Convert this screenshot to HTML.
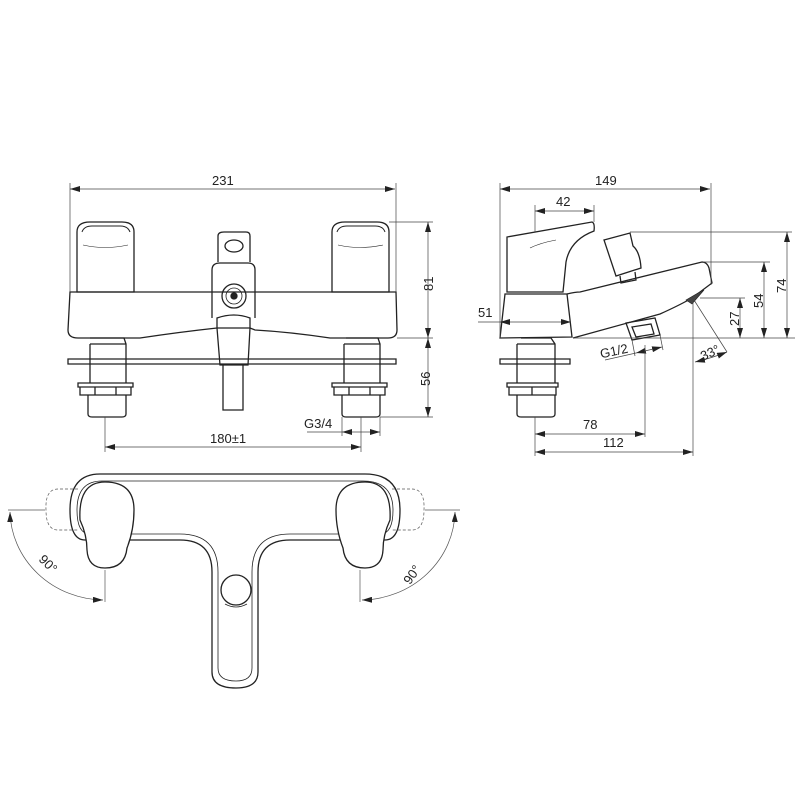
<!DOCTYPE html>
<html><head><meta charset="utf-8"><style>
html,body{margin:0;padding:0;background:#fff;}
svg{display:block;}
text{font-family:"Liberation Sans",sans-serif;font-size:13px;fill:#222;}
</style></head><body>
<svg width="800" height="800" viewBox="0 0 800 800" xmlns="http://www.w3.org/2000/svg">
<defs>
<marker id="a" viewBox="0 0 10 6" refX="10" refY="3" markerWidth="10" markerHeight="6" orient="auto-start-reverse" markerUnits="userSpaceOnUse"><path d="M0,0L10,3L0,6z" fill="#222"/></marker>
</defs>
<g fill="none" stroke="#222" stroke-width="1.3">
<!-- FRONT VIEW -->
<path d="M77,292 L77,232 Q77,222 90,222 L122,222 Q134,222 134,232 L134,292 Z"/>
<path d="M82,232 Q84,226 92,226 L120,226 Q128,226 130,232" stroke-width="1"/>
<path d="M83,245 Q105,250 128,245" stroke-width="0.6"/>
<path d="M332,292 L332,232 Q332,222 345,222 L377,222 Q389,222 389,232 L389,292 Z"/>
<path d="M337,232 Q339,226 347,226 L375,226 Q383,226 385,232" stroke-width="1"/>
<path d="M338,245 Q360,250 383,245" stroke-width="0.6"/>
<path d="M70,292 L396,292 L397,330 Q397,338 388,338 L330,338 Q290,332 255,330 L250,328 L217,328 Q180,332 140,338 L78,338 Q68,338 68,330 Z"/>
<path d="M218,262 L218,236 Q218,232 224,232 L246,232 Q250,232 250,236 L250,262"/>
<ellipse cx="234" cy="246" rx="9" ry="6"/>
<path d="M212,318 L212,270 Q212,263 220,263 L248,263 Q255,263 255,270 L255,318"/>
<circle cx="234" cy="296" r="12"/>
<circle cx="234" cy="296" r="8" stroke-width="0.8"/>
<circle cx="234" cy="296" r="3" fill="#222"/>
<path d="M217,318 Q234,312 250,318 L250,328 L248,365 L220,365 L217,328 Z"/>
<path d="M223,365 L223,410 L243,410 L243,365"/>
<path d="M68,359 L396,359 L396,364 L68,364 Z"/>
<path d="M92,338 L124,338 L126,344 L126,383 M90,344 L90,383 M90,344 L126,344 M90,338 L92,338"/>
<path d="M78,383 L133,383 L133,387 L78,387 Z M80,387 L80,395 L131,395 L131,387 M95,387 L95,395 M116,387 L116,395"/>
<path d="M88,395 L88,414 Q88,417 92,417 L122,417 Q126,417 126,414 L126,395"/>
<path d="M346,338 L378,338 L380,344 L380,383 M344,344 L344,383 M344,344 L380,344"/>
<path d="M332,383 L387,383 L387,387 L332,387 Z M334,387 L334,395 L385,395 L385,387 M349,387 L349,395 M370,387 L370,395"/>
<path d="M342,395 L342,414 Q342,417 346,417 L376,417 Q380,417 380,414 L380,395"/>
</g>
<g fill="none" stroke="#444" stroke-width="0.7">
<line x1="70" y1="189" x2="395" y2="189" marker-start="url(#a)" marker-end="url(#a)"/>
<line x1="70" y1="183" x2="70" y2="292"/>
<line x1="396" y1="183" x2="396" y2="292"/>
<line x1="389" y1="222" x2="433" y2="222"/>
<line x1="397" y1="338" x2="433" y2="338"/>
<line x1="380" y1="417" x2="433" y2="417"/>
<line x1="428" y1="222" x2="428" y2="338" marker-start="url(#a)" marker-end="url(#a)"/>
<line x1="428" y1="338" x2="428" y2="417" marker-start="url(#a)" marker-end="url(#a)"/>
<line x1="307" y1="432" x2="342" y2="432"/>
<line x1="342" y1="432" x2="380" y2="432" marker-start="url(#a)" marker-end="url(#a)"/>
<line x1="342" y1="417" x2="342" y2="436"/>
<line x1="380" y1="417" x2="380" y2="436"/>
<line x1="105" y1="417" x2="105" y2="452"/>
<line x1="361" y1="417" x2="361" y2="452"/>
<line x1="105" y1="447" x2="361" y2="447" marker-start="url(#a)" marker-end="url(#a)"/>
</g>
<text x="212" y="185">231</text>
<text x="423" y="293" transform="rotate(-90 423 283)" dx="-8">81</text>
<text x="423" y="385" transform="rotate(-90 423 378)" dx="-8">56</text>
<text x="304" y="428">G3/4</text>
<text x="210" y="443">180±1</text>

<!-- SIDE VIEW -->
<g fill="none" stroke="#222" stroke-width="1.3">
<path d="M507,292 L507,237 L592,222 Q595,223 594,231 Q570,240 566,262 L563,292 Z"/>
<path d="M556,240 Q540,243 530,248" stroke-width="0.6"/>
<path d="M505,294 L567,294 L572,337 L500,338 Z"/>
<path d="M567,294 Q575,292 580,292 L702,262 Q707,262 709,268 L712,283 L692,298 Q680,305 660,314 L573,338"/>
<path d="M604,240 L630,233 L633,246 Q640,252 641,268 L616,276 Z"/>
<path d="M620,276 L621,283 L636,280 L635,272"/>
<path d="M686,300 L698,293 L704,290 L692,304 Z" fill="#444" stroke-width="0.6"/>
<path d="M626,323 L655,318 L660,335 L632,340 Z M632,327 L651,324 L654,334 L636,337 Z"/>
<path d="M500,359 L570,359 L570,364 L500,364 Z"/>
<path d="M521,338 L551,338 L555,344 L555,383 M517,344 L517,383 M517,344 L555,344"/>
<path d="M507,383 L558,383 L558,387 L507,387 Z M509,387 L509,395 L556,395 L556,387 M532,387 L532,395"/>
<path d="M517,395 L517,414 Q517,417 521,417 L551,417 Q555,417 555,414 L555,395"/>
</g>
<g fill="none" stroke="#444" stroke-width="0.7">
<line x1="500" y1="189" x2="710" y2="189" marker-start="url(#a)" marker-end="url(#a)"/>
<line x1="500" y1="183" x2="500" y2="338"/>
<line x1="711" y1="183" x2="711" y2="285"/>
<line x1="535" y1="211" x2="594" y2="211" marker-start="url(#a)" marker-end="url(#a)"/>
<line x1="535" y1="205" x2="535" y2="232"/>
<line x1="594" y1="205" x2="594" y2="222"/>
<line x1="630" y1="232" x2="792" y2="232"/>
<line x1="703" y1="262" x2="770" y2="262"/>
<line x1="700" y1="298" x2="745" y2="298"/>
<line x1="573" y1="338" x2="795" y2="338"/>
<line x1="787" y1="232" x2="787" y2="338" marker-start="url(#a)" marker-end="url(#a)"/>
<line x1="764" y1="262" x2="764" y2="338" marker-start="url(#a)" marker-end="url(#a)"/>
<line x1="740" y1="298" x2="740" y2="338" marker-start="url(#a)" marker-end="url(#a)"/>
<line x1="478" y1="322" x2="500" y2="322"/>
<line x1="500" y1="322" x2="571" y2="322" marker-start="url(#a)" marker-end="url(#a)"/>
<line x1="605" y1="360" x2="636" y2="353"/>
<line x1="636" y1="353" x2="662" y2="347" marker-start="url(#a)" marker-end="url(#a)"/>
<line x1="632" y1="340" x2="635" y2="356"/>
<line x1="660" y1="335" x2="663" y2="350"/>
<line x1="693" y1="300" x2="693" y2="456"/>
<line x1="694" y1="300" x2="727" y2="352"/>
<path d="M695,362 Q712,358 727,352" marker-start="url(#a)" marker-end="url(#a)"/>
<line x1="645" y1="345" x2="645" y2="437"/>
<line x1="535" y1="417" x2="535" y2="456"/>
<line x1="535" y1="434" x2="645" y2="434" marker-start="url(#a)" marker-end="url(#a)"/>
<line x1="535" y1="452" x2="693" y2="452" marker-start="url(#a)" marker-end="url(#a)"/>
</g>
<text x="595" y="185">149</text>
<text x="556" y="206">42</text>
<text x="478" y="317">51</text>
<text x="600" y="356" transform="rotate(-12 612 352)">G1/2</text>
<text x="700" y="357" transform="rotate(-25 710 352)">33°</text>
<text x="782" y="289" transform="rotate(-90 782 285)" dx="-8">74</text>
<text x="759" y="304" transform="rotate(-90 759 300)" dx="-8">54</text>
<text x="735" y="322" transform="rotate(-90 735 318)" dx="-8">27</text>
<text x="583" y="429">78</text>
<text x="603" y="447">112</text>

<!-- TOP VIEW -->
<g fill="none" stroke="#222" stroke-width="1.3">
<path d="M100,474 L365,474 Q400,474 400,510 Q400,540 385,540 L290,540 Q258,540 258,572 L258,672 Q258,688 236,688 Q212,688 212,672 L212,572 Q212,540 180,540 L85,540 Q70,540 70,510 Q70,474 100,474 Z"/>
<path d="M102,481 L363,481 Q393,481 393,510 Q393,534 380,534 L290,534 Q252,534 252,572 L252,668 Q252,681 236,681 Q218,681 218,668 L218,572 Q218,534 180,534 L90,534 Q77,534 77,510 Q77,481 102,481 Z" stroke-width="0.8"/>
<path d="M105,482 Q134,482 134,510 Q134,530 127,548 Q125,568 105,568 Q88,568 87,550 Q87,535 80,520 Q78,482 105,482 Z" fill="#fff"/>
<path d="M365,482 Q336,482 336,510 Q336,530 343,548 Q345,568 365,568 Q382,568 383,550 Q383,535 390,520 Q392,482 365,482 Z" fill="#fff"/>
<circle cx="236" cy="590" r="15"/>
<path d="M225,604 Q236,610 247,604" stroke-width="0.8"/>
</g>
<g fill="none" stroke="#555" stroke-width="0.7">
<path d="M78,489 L58,489 Q45,489 46,510 Q46,530 58,530 L78,530" stroke-dasharray="3,2"/>
<path d="M392,489 L412,489 Q425,489 424,510 Q424,530 412,530 L392,530" stroke-dasharray="3,2"/>
<line x1="8" y1="510" x2="45" y2="510"/>
<line x1="105" y1="570" x2="105" y2="602"/>
<path d="M10,512 A95,90 0 0 0 103,600" marker-start="url(#a)" marker-end="url(#a)"/>
<line x1="425" y1="510" x2="460" y2="510"/>
<line x1="360" y1="570" x2="360" y2="602"/>
<path d="M455,512 A95,90 0 0 1 362,600" marker-start="url(#a)" marker-end="url(#a)"/>
</g>
<text x="38" y="570" transform="rotate(45 50 565)">90°</text>
<text x="400" y="578" transform="rotate(-55 412 572)">90°</text>
</svg>
</body></html>
